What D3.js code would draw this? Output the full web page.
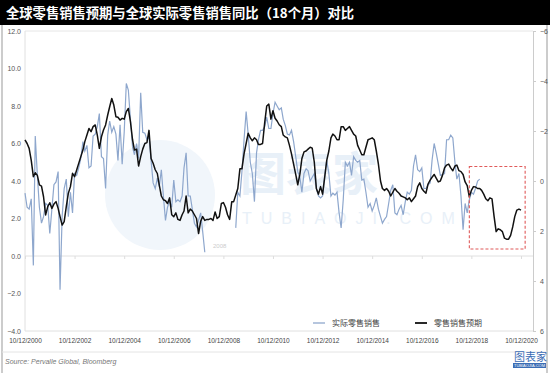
<!DOCTYPE html>
<html>
<head>
<meta charset="utf-8">
<script src="https://cdn.jsdelivr.net/npm/d3@7"></script>
<style>
body{margin:0;background:#fff;}
svg{display:block;font-family:"Liberation Sans",Arial,sans-serif;}
.cjk{font-family:"Noto Sans CJK SC",sans-serif;}
</style>
</head>
<body>
<svg id="chart"></svg>
<script>
var W=550,H=373;
var title="全球零售销售预期与全球实际零售销售同比（18个月）对比";
var source="Source: Pervalle Global, Bloomberg";
var seriesNames=["实际零售销售","零售销售预期"];
var startMonth=new Date(2000,9,12);
var leftTicks=[-4,-2,0,2,4,6,8,10,12];
var rightTicks=[-6,-4,-2,0,2,4,6];
var tickYears=[2000,2002,2004,2006,2008,2010,2012,2014,2016,2018,2020];
// actual retail sales yoy, monthly from 10/2000 (null = missing)
var actualVals=[3.35,2.6,2.5,3.05,-0.5,6.4,4.3,2.6,1.75,2.1,2.8,2.7,1.2,2.5,3.8,3.95,4.5,-1.8,2.1,3.6,4.1,2.1,3.4,2.3,4.4,4.3,4.7,5.2,6.1,5.6,5.9,4.7,4.8,6.4,6.5,6.9,7.6,5.3,5.2,3.6,6.45,7.2,6.6,6.9,6.5,5.1,7.0,4.9,6.6,
9.2,8.85,7.3,5.8,5.4,6.0,5.2,8.7,6.6,6.55,6.2,6.4,5.1,3.9,3.6,4.15,3.7,4.6,3.2,1.9,2.6,2.95,2.6,4.05,2.9,3.0,2.9,3.2,4.7,5.5,3.2,3.2,2.5,1.75,1.55,1.9,2.3,1.3,0.2,
null,null,null,null,null,null,null,null,null,null,null,null,null,null,
1.5,3.4,3.2,4.5,6.2,7.7,6.5,5.0,4.4,2.9,5.5,6.2,6.7,6.7,6.9,7.4,6.8,6.8,7.6,8.2,8.0,7.8,7.9,7.3,6.95,6.5,6.45,6.7,6.1,5.3,4.5,4.2,3.4,4.4,4.65,4.55,4.0,4.2,4.4,3.6,3.2,3.1,3.2,4.3,5.1,4.4,
3.2,3.35,3.25,3.4,2.3,1.5,3.0,5.0,4.8,5.0,4.3,5.3,5.1,5.0,5.1,4.05,4.1,3.4,2.6,2.8,2.4,2.7,3.1,2.5,2.1,1.75,1.95,2.1,2.8,3.5,3.8,2.3,2.2,2.5,2.7,2.2,2.9,3.4,3.3,3.5,4.8,5.4,4.6,4.5,4.7,3.6,3.6,3.8,
3.9,5.1,6.0,5.5,4.9,4.3,4.35,4.4,6.2,6.2,6.45,6.3,5.0,4.1,4.4,3.2,1.4,2.8,2.3,3.0,3.4,3.3,3.6,4.0,4.1];
// retail sales expectation (drawn on the left scale), monthly from 10/2000
var expectVals=[6.19,6.0,5.74,5.1,4.23,4.44,4.3,3.79,3.73,3.16,2.19,2.63,2.84,2.54,2.77,2.9,2.54,2.1,1.65,1.83,2.63,3.34,3.7,4.41,4.23,4.59,4.94,5.3,5.65,6.1,6.45,6.8,6.63,6.9,6.99,6.45,5.74,6.36,6.72,6.99,7.52,7.96,8.4,8.05,7.43,7.4,7.25,7.34,7.3,
7.7,7.87,7.16,6.2,5.65,5.7,4.8,5.3,5.7,6.0,6.05,6.7,5.2,4.95,4.6,4.4,3.8,3.2,3.0,2.95,2.8,3.1,2.2,2.1,2.3,1.95,1.9,2.2,2.4,3.2,2.3,2.5,2.4,2.2,2.0,1.2,1.85,2.1,1.9,1.95,1.95,2.0,1.9,2.35,2.0,2.1,2.8,2.85,2.6,
2.2,1.95,2.9,2.9,3.25,3.6,4.65,4.65,5.45,6.0,6.55,6.3,6.15,6.3,6.2,5.95,5.95,6.0,7.1,8.0,8.1,7.3,7.75,7.35,7.2,7.0,6.9,6.45,6.35,6.3,5.9,5.45,4.9,4.35,3.8,4.35,5.2,5.55,5.6,5.7,5.8,5.75,5.0,3.6,3.3,3.7,3.3,4.2,5.1,5.6,
6.3,6.5,6.4,6.2,6.2,6.9,6.9,6.7,6.8,6.9,6.7,6.5,6.4,5.9,5.65,5.4,5.4,5.8,6.2,6.25,6.3,6.2,5.6,4.9,4.0,3.6,3.5,3.6,3.45,3.2,3.4,3.6,3.45,3.35,3.2,3.15,3.1,3.0,3.1,2.9,3.05,3.2,3.7,3.9,3.6,3.45,3.35,
3.84,4.05,4.2,4.35,4.15,3.95,4.0,4.3,4.7,4.85,4.9,4.7,4.55,4.8,4.85,4.55,4.5,4.35,3.95,3.75,3.16,3.5,3.7,3.68,3.6,3.6,3.5,3.3,3.05,2.95,3.1,3.05,2.1,1.3,1.45,1.4,1.3,0.95,0.9,0.9,1.1,1.55,2.1,2.45,2.5,2.45];
// highlighted box: month index range and left-scale values
var boxMonths=[215,242];
var boxVals=[4.77,0.37];

var svg=d3.select("#chart").attr("width",W).attr("height",H);
var margin={left:25,right:533,top:31,bottom:331};

var xScale=d3.scaleTime()
  .domain([startMonth,new Date(2020,9,12)])
  .range([margin.left,521]);
var yScale=d3.scaleLinear().domain([-4,12]).range([margin.bottom,margin.top]);
var yRight=d3.scaleLinear().domain([-6,6]).range([margin.top,margin.bottom]);
function monthDate(i){return d3.timeMonth.offset(startMonth,i);}

// title bar
svg.append("rect").attr("x",0).attr("y",0).attr("width",W).attr("height",25).attr("fill","#000");
svg.append("text").attr("class","cjk").attr("x",6).attr("y",18)
   .attr("fill","#fff").attr("font-size",13.3).attr("font-weight","bold").text(title);

// frame
svg.append("line").attr("x1",2).attr("x2",2).attr("y1",25).attr("y2",H).attr("stroke","#999");
svg.append("line").attr("x1",547).attr("x2",547).attr("y1",25).attr("y2",H).attr("stroke","#999");
svg.append("line").attr("x1",2).attr("x2",547).attr("y1",352).attr("y2",352).attr("stroke","#e4e4e4");

// faint watermark
var wm=svg.append("g");
wm.append("circle").attr("cx",160).attr("cy",195).attr("r",55).attr("fill","#f1f6fb");
wm.append("text").attr("class","cjk").attr("x",240).attr("y",190).attr("font-size",46)
  .attr("font-weight","bold").attr("fill","#e8f0f8").text("图表家");
wm.append("text").attr("x",242).attr("y",224).attr("font-size",16).attr("letter-spacing",9)
  .attr("fill","#e8f0f8").text("TUBIAOJI.COM");
svg.append("text").attr("x",213).attr("y",248).attr("font-size",6).attr("fill","#ccc").text("2008");

// plot borders
svg.append("line").attr("x1",margin.left).attr("x2",margin.right).attr("y1",margin.top).attr("y2",margin.top).attr("stroke","#e6e6e6");
svg.append("line").attr("x1",margin.left).attr("x2",margin.right).attr("y1",margin.bottom).attr("y2",margin.bottom).attr("stroke","#e0e0e0");
svg.append("line").attr("x1",margin.left).attr("x2",margin.left).attr("y1",margin.top).attr("y2",margin.bottom).attr("stroke","#e0e0e0");

// left axis
var yAxis=d3.axisLeft(yScale).tickValues(leftTicks).tickSize(0).tickPadding(4).tickFormat(d3.format(".1f"));
svg.append("g").attr("transform","translate("+margin.left+",0)").call(yAxis)
   .call(function(g){g.select(".domain").remove();})
   .selectAll("text").attr("fill","#555").attr("font-size",7);

// right axis
var yAxisR=d3.axisRight(yRight).tickValues(rightTicks).tickSize(3).tickPadding(4).tickFormat(d3.format("d"));
svg.append("g").attr("transform","translate("+margin.right+",0)").call(yAxisR)
   .call(function(g){
     g.select(".domain").attr("stroke","#ccc");
     g.selectAll("line").attr("stroke","#ccc");
   })
   .selectAll("text").attr("fill","#555").attr("font-size",7);

// zero line with x ticks
var xAxis=d3.axisBottom(xScale)
  .tickValues(tickYears.map(function(y){return new Date(y,9,12);}))
  .tickSize(3).tickFormat("");
svg.append("g").attr("transform","translate(0,"+yScale(0)+")").call(xAxis)
   .call(function(g){
     g.select(".domain").attr("d","M"+margin.left+",0H"+margin.right).attr("stroke","#e0e0e0");
     g.selectAll("line").attr("stroke","#ddd");
   });
// x labels at bottom
var xLab=d3.axisBottom(xScale)
  .tickValues(tickYears.map(function(y){return new Date(y,9,12);}))
  .tickSize(0).tickPadding(7).tickFormat(d3.timeFormat("%m/%d/%Y"));
svg.append("g").attr("transform","translate(0,"+margin.bottom+")").call(xLab)
   .call(function(g){g.select(".domain").remove();})
   .selectAll("text").attr("fill","#444").attr("font-size",6.5);

// lines
var lineActual=d3.line()
  .defined(function(d){return d!==null;})
  .x(function(d,i){return xScale(monthDate(i));})
  .y(function(d){return yScale(d);});
svg.append("path").datum(actualVals).attr("d",lineActual)
   .attr("fill","none").attr("stroke","#8ea7cd").attr("stroke-width",1.2);

var lineExpect=d3.line()
  .x(function(d,i){return xScale(monthDate(i));})
  .y(function(d){return yScale(d);});
svg.append("path").datum(expectVals).attr("d",lineExpect)
   .attr("fill","none").attr("stroke","#111").attr("stroke-width",1.5).attr("stroke-linejoin","round");

// highlight box
var bx1=xScale(monthDate(boxMonths[0])),bx2=xScale(monthDate(boxMonths[1]));
svg.append("rect").attr("x",bx1).attr("y",yScale(boxVals[0]))
   .attr("width",bx2-bx1).attr("height",yScale(boxVals[1])-yScale(boxVals[0]))
   .attr("fill","none").attr("stroke","#e05a5a").attr("stroke-width",1.1).attr("stroke-dasharray","3,2");

// legend
var legend=svg.append("g").attr("transform","translate(0,323)");
var legColors=["#8ea7cd","#111"];
var legX=[313,415];
seriesNames.forEach(function(n,i){
  legend.append("line").attr("x1",legX[i]).attr("x2",legX[i]+12).attr("y1",0).attr("y2",0)
        .attr("stroke",legColors[i]).attr("stroke-width",i==0?1.3:1.8);
  legend.append("text").attr("class","cjk").attr("x",legX[i]+19).attr("y",3)
        .attr("font-size",8).attr("fill","#444").text(n);
});

// source
svg.append("text").attr("x",5).attr("y",364).attr("font-size",7).attr("font-style","italic")
   .attr("fill","#777").text(source);

// corner logo
svg.append("text").attr("class","cjk").attr("x",514).attr("y",361).attr("font-size",11)
   .attr("fill","#3b6db5").text("图表家");
svg.append("rect").attr("x",513).attr("y",363).attr("width",33).attr("height",5).attr("fill","#3b6db5");
svg.append("text").attr("x",529.5).attr("y",367.2).attr("font-size",4).attr("text-anchor","middle")
   .attr("fill","#fff").text("TUBIAOJIA.COM");
</script>
</body>
</html>
